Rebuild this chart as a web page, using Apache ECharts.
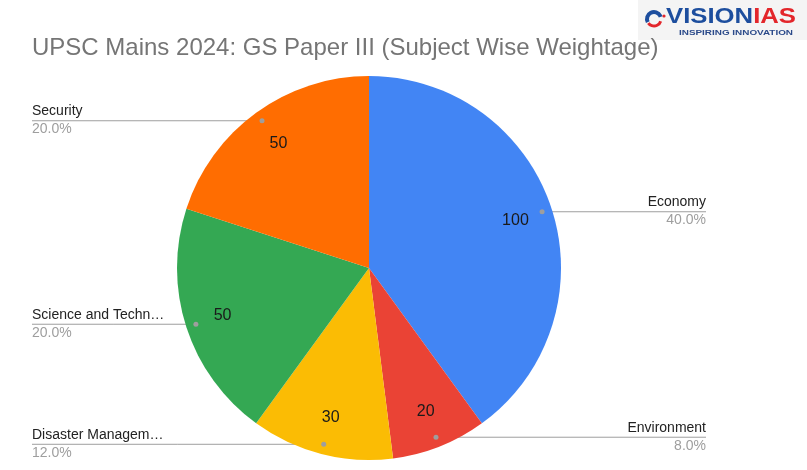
<!DOCTYPE html>
<html>
<head>
<meta charset="utf-8">
<script src="https://cdn.jsdelivr.net/npm/echarts@6/dist/echarts.min.js"></script>
<style>
html,body{margin:0;padding:0;background:#fff;}
#chart{width:807px;height:470px;}
</style>
</head>
<body>
<div id="chart"></div>
<script>
const titleText = 'UPSC Mains 2024: GS Paper III (Subject Wise Weightage)';
const categories = ['Economy', 'Environment', 'Disaster Management', 'Science and Technology', 'Security'];
const values = [100, 20, 30, 50, 50];
const colors = ['#4285F4', '#EA4335', '#FBBC04', '#34A853', '#FF6D01'];

const FONT = 'Arial, "Liberation Sans", sans-serif';
const CX = 369, CY = 268, R = 192;
const DOT_R = 182;
const LEFT_X = 32, RIGHT_X = 706;

const total = values.reduce((a, b) => a + b, 0);
const midAngles = [];
let acc = 0;
values.forEach(v => { midAngles.push((acc + v / 2) / total * Math.PI * 2); acc += v; });

const ctx = document.createElement('canvas').getContext('2d');
function textW(s, font) { ctx.font = font; return ctx.measureText(s).width; }
function fitName(s, maxW) {
  const f = '14px ' + FONT;
  if (textW(s, f) <= maxW) return s;
  let t = s;
  while (t.length > 1 && textW(t + '…', f) > maxW) t = t.slice(0, -1);
  return t + '…';
}

const logoFont = 'bold 22px ' + FONT;
const logoScale = 130 / textW('VISIONIAS', logoFont);
const visionW = textW('VISION', logoFont) * logoScale;
const subFont = 'bold 7px ' + FONT;
const subScale = 114 / textW('INSPIRING INNOVATION', subFont);

const chart = echarts.init(document.getElementById('chart'), null, {renderer: 'canvas'});

const dots = midAngles.map(a => ({
  type: 'circle',
  shape: {cx: CX + DOT_R * Math.sin(a), cy: CY - DOT_R * Math.cos(a), r: 2.5},
  style: {fill: '#9e9e9e'},
  z: 100
}));

const option = {
  animation: false,
  backgroundColor: '#ffffff',
  title: {
    text: titleText,
    left: 32, top: 36, padding: 0,
    textStyle: {fontFamily: FONT, fontSize: 24, fontWeight: 'normal', color: '#757575'}
  },
  graphic: [
    {type: 'rect', shape: {x: 638, y: 0, width: 169, height: 40}, style: {fill: '#f4f4f4'}, z: 1},
    {type: 'arc', shape: {cx: 654, cy: 19, r: 7, startAngle: Math.PI * 0.85, endAngle: Math.PI * 1.9}, style: {stroke: '#1d4e9e', lineWidth: 4, fill: null}, z: 2},
    {type: 'arc', shape: {cx: 654, cy: 19, r: 7, startAngle: Math.PI * 0.1, endAngle: Math.PI * 0.8}, style: {stroke: '#e3262b', lineWidth: 3, fill: null}, z: 2},
    {type: 'circle', shape: {cx: 664, cy: 16, r: 1.6}, style: {fill: '#e3262b'}, z: 2},
    {type: 'text', x: 666, y: 28, scaleX: logoScale, style: {text: 'VISION', font: logoFont, fill: '#1d4e9e', textVerticalAlign: 'bottom'}, z: 2},
    {type: 'text', x: 666 + visionW, y: 28, scaleX: logoScale, style: {text: 'IAS', font: logoFont, fill: '#e3262b', textVerticalAlign: 'bottom'}, z: 2},
    {type: 'text', x: 679, y: 36.5, scaleX: subScale, style: {text: 'INSPIRING INNOVATION', font: subFont, fill: '#2b4a8a', textVerticalAlign: 'bottom'}, z: 2}
  ].concat(dots),
  series: [
    {
      type: 'pie',
      center: [CX, CY],
      radius: [0, R],
      startAngle: 90,
      clockwise: true,
      silent: true,
      itemStyle: {borderWidth: 0},
      data: categories.map((c, i) => ({name: c, value: values[i], itemStyle: {color: colors[i]}})),
      label: {
        show: true,
        position: 'outside',
        formatter: p => '{n|' + fitName(p.name, 136) + '}\n{p|' + p.percent.toFixed(1) + '%}',
        rich: {
          n: {fontFamily: FONT, fontSize: 14, color: '#222222', lineHeight: 19},
          p: {fontFamily: FONT, fontSize: 14, color: '#9e9e9e', lineHeight: 17}
        }
      },
      labelLine: {show: true, length: 5, length2: 5, lineStyle: {color: '#9e9e9e', width: 1}},
      labelLayout: function (p) {
        const a = midAngles[p.dataIndex];
        const dx = Math.sin(a), dy = -Math.cos(a);
        const px = CX + DOT_R * dx, py = CY + DOT_R * dy;
        const right = dx > 0;
        const ex = right ? RIGHT_X : LEFT_X;
        return {
          x: ex, y: py - 1,
          align: right ? 'right' : 'left',
          verticalAlign: 'middle',
          labelLinePoints: [[px, py], [(px + ex) / 2, py], [ex, py]]
        };
      }
    },
    {
      type: 'pie',
      center: [CX, CY],
      radius: [110, R],
      startAngle: 90,
      clockwise: true,
      silent: true,
      z: 5,
      itemStyle: {color: 'rgba(0,0,0,0)', borderWidth: 0},
      data: categories.map((c, i) => ({name: c, value: values[i]})),
      label: {
        show: true,
        position: 'inside',
        formatter: p => String(p.value),
        fontFamily: FONT, fontSize: 16, color: '#1a1a1a',
        padding: [4, 0, 0, 0]
      },
      labelLine: {show: false}
    }
  ]
};
chart.setOption(option);
</script>
</body>
</html>
